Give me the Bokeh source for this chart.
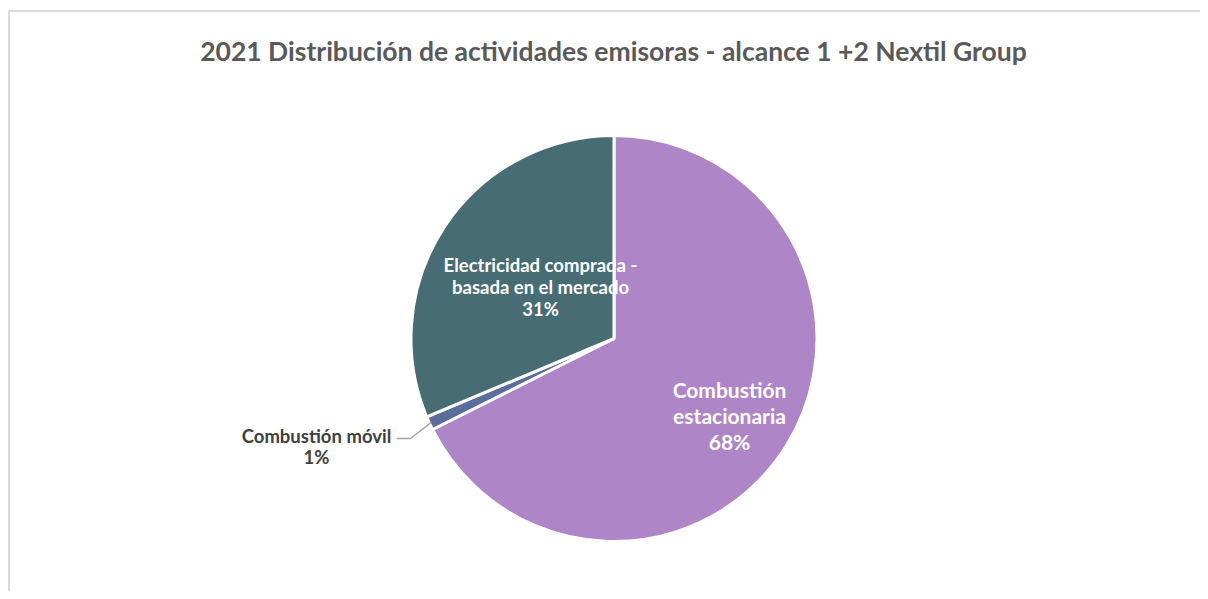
import math
from bokeh.plotting import figure
from bokeh.models import Range1d, ColumnDataSource, Label
from bokeh.core.properties import value
from bokeh.embed import file_html
from bokeh.resources import INLINE

# ---- data ----
categories = ["Combustión estacionaria", "Combustión móvil",
              "Electricidad comprada - basada en el mercado"]
shares = [67.6, 1.1, 31.3]
pct_labels = ["68%", "1%", "31%"]
colors = ["#AE85C6", "#5B6E9B", "#476C74"]
title_text = "2021 Distribución de actividades emisoras - alcance 1 +2 Nextil Group"

W, H = 1200, 591
OFF = 0  # observed page offset of the figure
def X(px):  # page x -> data x
    return px - OFF
def Y(py):  # page y -> data y
    return (OFF + H) - py

p = figure(width=W, height=H, output_backend="svg", toolbar_location=None,
           x_range=Range1d(0, W), y_range=Range1d(0, H),
           x_axis_type=None, y_axis_type=None, min_border=0)
p.grid.visible = False
p.outline_line_color = None
p.background_fill_color = "white"
p.border_fill_color = "white"

# chart border (top and left)
p.line(x=[X(8), W], y=[Y(10.5), Y(10.5)], line_color="#D9D9D9", line_width=2)
p.line(x=[X(8.5), X(8.5)], y=[0, Y(10.5)], line_color="#D9D9D9", line_width=2)

# ---- pie ----
cx, cy, r = X(613.5), Y(338), 203
total = sum(shares)
starts, ends = [], []
acc = 0.0
for s in shares:
    a = acc / total
    b = (acc + s) / total
    starts.append(math.pi / 2 - 2 * math.pi * a)
    ends.append(math.pi / 2 - 2 * math.pi * b)
    acc += s

src = ColumnDataSource(dict(cat=categories, val=shares, start=starts, end=ends,
                            color=colors))
p.wedge(x=cx, y=cy, radius=r, start_angle="start", end_angle="end",
        direction="clock", fill_color="color", line_color="white",
        line_width=3, source=src)

# leader line for the small slice
mid = (starts[1] + ends[1]) / 2
ex, ey = cx + (r - 2) * math.cos(mid), cy + (r - 2) * math.sin(mid)
p.line(x=[X(396), X(410), ex], y=[Y(438), Y(438), ey],
       line_color="#A6A6A6", line_width=1.5)

FONT = value("Lato")

def add_lines(lines, px, py0, step, size, color):
    for i, t in enumerate(lines):
        p.text(x=[X(px)], y=[Y(py0 + i * step)], text=[t], text_font=FONT,
               text_font_size=size, text_font_style="bold", text_color=color,
               text_align="center", text_baseline="middle")

add_lines(["Combustión", "estacionaria", pct_labels[0]], 729, 389, 26, "21px", "white")
add_lines(["Electricidad comprada -", "basada en el mercado", pct_labels[2]],
          540, 264, 22, "18.5px", "white")
add_lines(["Combustión móvil", pct_labels[1]], 316, 435, 21, "18.5px", "#404040")

p.add_layout(Label(x=X(613), y=Y(50), text=title_text, text_font="Lato",
                   text_font_size="26.5px", text_font_style="bold",
                   text_color="#595959", text_align="center",
                   text_baseline="middle"))

open("out.html", "w").write(file_html(p, INLINE))
